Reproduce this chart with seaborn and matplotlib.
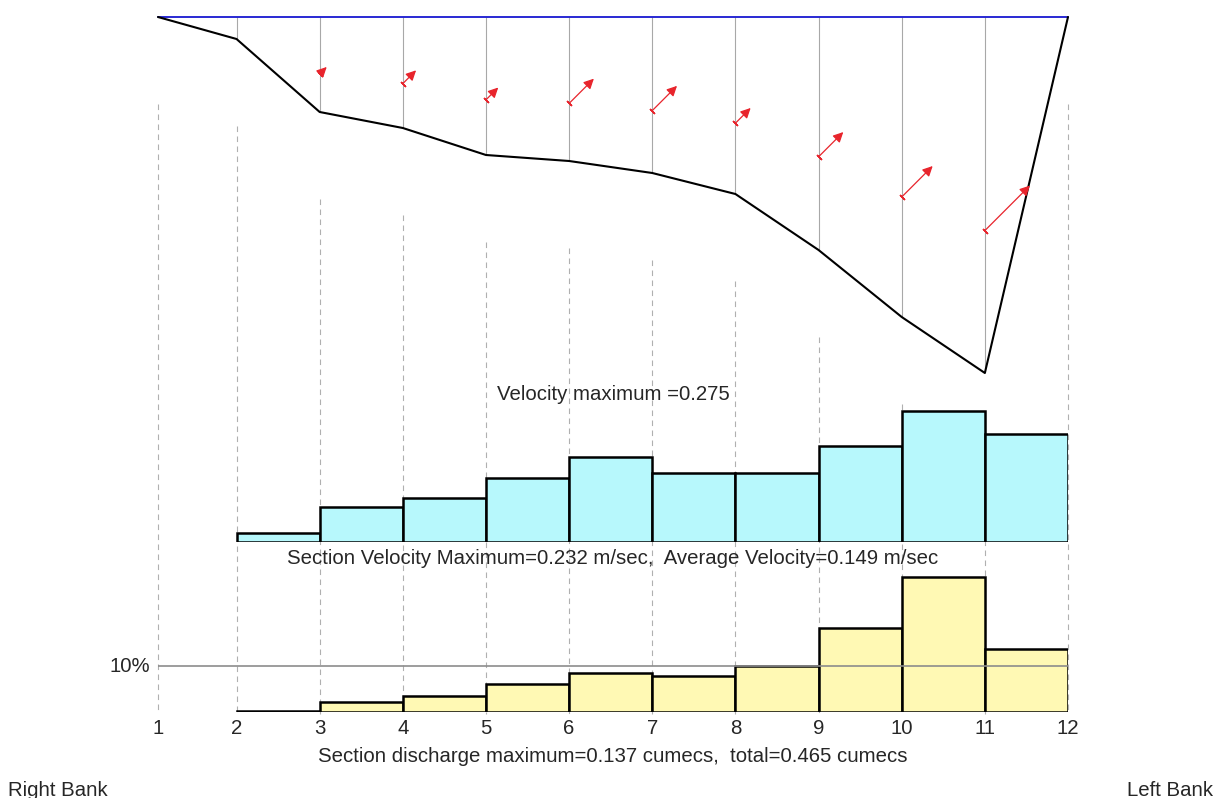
import numpy as np
import pandas as pd
import matplotlib.pyplot as plt
import seaborn as sns

# stations across the section, right bank (1) to left bank (12)
stations = [str(i) for i in range(1, 13)]
distance = np.array([0, 0.85, 1.75, 2.65, 3.55, 4.45, 5.35, 6.25, 7.15, 8.05, 8.95, 9.85])
depth = np.array([0, 0.044, 0.19, 0.222, 0.276, 0.288, 0.312, 0.354, 0.466, 0.60, 0.712, 0])
point_vel = np.array([0, 0, 0.043, 0.081, 0.075, 0.151, 0.151, 0.093, 0.151, 0.189, 0.275, 0])

# sections between stations 2-3 ... 11-12
section_vel = np.array([0.016, 0.062, 0.078, 0.113, 0.151, 0.122, 0.122, 0.170, 0.232, 0.191])
section_q = np.array([0.001, 0.010, 0.016, 0.028, 0.040, 0.037, 0.047, 0.085, 0.137, 0.064])
avg_velocity = 0.149

W, H = 1226, 798


def px_rect(left, top, right, bottom):
    return [left / W, 1 - bottom / H, (right - left) / W, (bottom - top) / H]


sns.set_style('white')
plt.rcParams['font.family'] = ['Liberation Sans', 'DejaVu Sans']
plt.rcParams['font.size'] = 14.7

fig = plt.figure(figsize=(W / 100, H / 100), dpi=100)
fig.patch.set_facecolor('white')

X0, X1 = 158, 1068
ax_sec = fig.add_axes(px_rect(X0, 17, X1, 373))
ax_vel = fig.add_axes(px_rect(X0, 395, X1, 542))
ax_q = fig.add_axes(px_rect(X0, 569, X1, 712))

for ax in (ax_sec, ax_vel, ax_q):
    ax.set_facecolor('none')
    for s in ax.spines.values():
        s.set_visible(False)

# ---- cross section ----
d_per_px = depth.max() / (373 - 17)
ax_sec.vlines(distance, 0, depth, color='#a8a8a8', lw=0.8, zorder=1)
ax_sec.vlines(distance, depth + 87 * d_per_px, (714 - 17) * d_per_px,
              color='#b0b0b0', lw=0.8, linestyles=(0, (5, 4)), clip_on=False, zorder=1)
ax_sec.plot([distance[0], distance[-1]], [0, 0], color='#1818d0', lw=1.3, zorder=3,
            clip_on=False)
sns.lineplot(x=distance, y=depth, ax=ax_sec, color='black', linewidth=1.5,
             estimator=None, sort=False, zorder=3)
for line in ax_sec.lines:
    line.set_clip_on(False)

red = '#e8242c'
for x, d, v in zip(distance, depth, point_vel):
    if v <= 0:
        continue
    y = 0.6 * d
    L = v * 118
    ax_sec.annotate('', xy=(x, y), xytext=(L, L), textcoords='offset points',
                    arrowprops=dict(arrowstyle='<|-,head_length=0.6,head_width=0.3',
                                    color=red, lw=0.9, shrinkA=0, shrinkB=0,
                                    mutation_scale=10), zorder=4)
    ax_sec.plot(x, y, marker=(2, 2, 45), ms=5, mew=1.0, color=red, zorder=4)

ax_sec.set_xlim(distance[0], distance[-1])
ax_sec.set_ylim(depth.max(), 0)
ax_sec.set_xticks([])
ax_sec.set_yticks([])
ax_sec.set_xlabel('')
ax_sec.set_ylabel('')

# ---- section velocities / discharge ----
edges = list(distance[1:])
sections = pd.DataFrame({
    'mid': (distance[1:-1] + distance[2:]) / 2,
    'vel': section_vel,
    'q': section_q,
})

sns.histplot(data=sections, x='mid', weights='vel', bins=edges, ax=ax_vel, color='#b7f8fc',
             edgecolor='black', linewidth=1.8, alpha=1, zorder=2)
ax_vel.set_ylim(0, 0.26)
ax_vel.set_xlim(distance[0], distance[-1])
ax_vel.set_xticks([])
ax_vel.set_yticks([])
ax_vel.set_xlabel('')
ax_vel.set_ylabel('')

sns.histplot(data=sections, x='mid', weights='q', bins=edges, ax=ax_q, color='#fff9b4',
             edgecolor='black', linewidth=1.8, alpha=1, zorder=2)
total_q = section_q.sum()
ten_pct = 0.1 * total_q
ax_q.plot([distance[0], distance[-1]], [ten_pct, ten_pct], color='#8c8c8c', lw=1.2, zorder=5)
ax_q.annotate('10%', xy=(distance[0], ten_pct), xytext=(-6, 0), textcoords='offset points',
              ha='right', va='center')
ax_q.set_ylim(0, 0.145)
ax_q.set_xlim(distance[0], distance[-1])
ax_q.set_xticks(distance, stations)
ax_q.set_yticks([])
ax_q.tick_params(axis='x', length=0, pad=5, labelsize=14.7)
ax_q.set_xlabel('')
ax_q.set_ylabel('')

# ---- texts ----
cx = (X0 + X1) / 2 / W
fig.text(cx, 1 - 400 / H, f'Velocity maximum ={point_vel.max():.3f}', ha='center', va='baseline')
fig.text(cx, 1 - 564 / H,
         f'Section Velocity Maximum={section_vel.max():.3f} m/sec,  Average Velocity={avg_velocity:.3f} m/sec',
         ha='center', va='baseline')
fig.text(cx, 1 - 762 / H,
         f'Section discharge maximum={section_q.max():.3f} cumecs,  total={total_q:.3f} cumecs',
         ha='center', va='baseline')
fig.text(8 / W, 1 - 796 / H, 'Right Bank', ha='left', va='baseline')
fig.text(1213 / W, 1 - 796 / H, 'Left Bank', ha='right', va='baseline')

fig.savefig('out.png', dpi=100)
